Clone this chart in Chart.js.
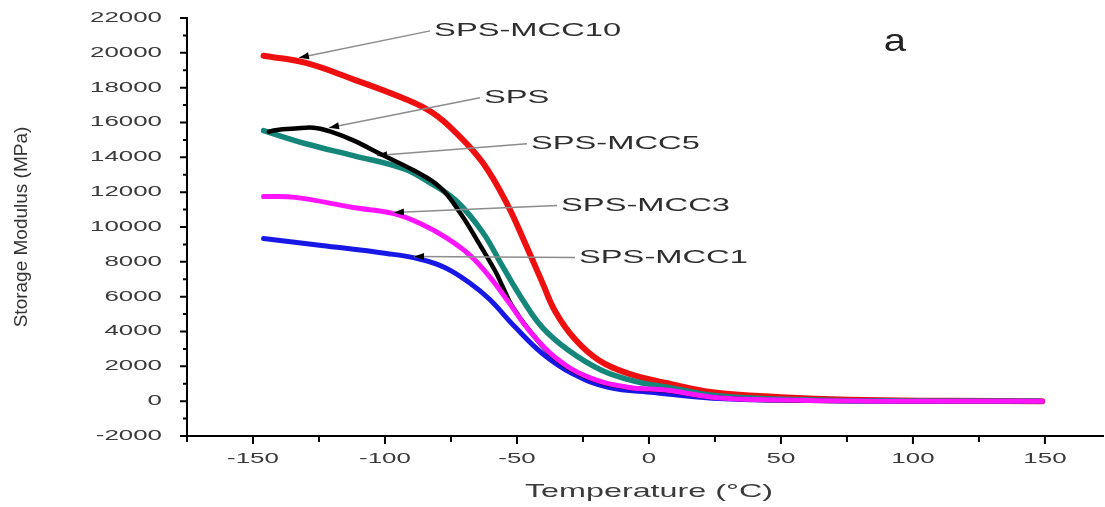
<!DOCTYPE html>
<html>
<head>
<meta charset="utf-8">
<script src="https://cdn.jsdelivr.net/npm/chart.js@4.4.0/dist/chart.umd.min.js"></script>
<style>
html, body { margin: 0; padding: 0; background: #fff; }
</style>
</head>
<body>
<canvas id="dmaChart" width="1105" height="507"></canvas>
<script>
// storage modulus (MPa) vs temperature (C)
const tempMCC10 = [-146, -130, -112, -93, -82, -73, -63, -54, -47, -40.5, -35.5, -28, -19, -8, 7, 24, 50, 76, 113, 149];
const modMCC10 = [19830, 19420, 18480, 17390, 16560, 15400, 13700, 11400, 9100, 6850, 5150, 3550, 2350, 1600, 1030, 515, 230, 80, 20, 0];

const tempSPS = [-144, -141.5, -134, -127, -120, -111.8, -100.5, -89, -79, -71.5, -64, -58, -55.5, -52, -45, -35.5, -23, -8, 7, 24, 50, 95, 148];
const modSPS = [15470, 15560, 15650, 15700, 15450, 14960, 14100, 13240, 12260, 10800, 8960, 7400, 6600, 5500, 4000, 2450, 1330, 780, 600, 220, 50, 0, 0];

const tempMCC5 = [-146, -130, -112, -93, -83, -73, -63, -55.5, -48, -40.5, -30.5, -18, -4, 7, 24, 50, 95, 148];
const modMCC5 = [15530, 14780, 14100, 13350, 12550, 11500, 9700, 7750, 5850, 4250, 2920, 1780, 1090, 800, 340, 115, 10, 0];

const tempMCC3 = [-146, -134, -112, -96.7, -86.6, -77, -68, -60.4, -53, -45.4, -35.6, -23, -8, 7, 24, 50, 87, 149];
const modMCC3 = [11750, 11700, 11120, 10770, 10200, 9400, 8400, 7150, 5650, 4070, 2520, 1380, 800, 630, 230, 60, 0, 0];

const tempMCC1 = [-146, -124, -99.4, -86.6, -77, -68, -60.4, -50.6, -40.5, -29.2, -15.4, 2, 24, 50, 95, 148];
const modMCC1 = [9340, 8940, 8480, 8150, 7650, 6800, 5850, 4240, 2750, 1600, 800, 500, 170, 60, 0, 0];

const xTicks = [-150, -100, -50, 0, 50, 100, 150];
const xMinorTicks = [-175, -125, -75, -25, 25, 75, 125];
const yTicks = [-2000, 0, 2000, 4000, 6000, 8000, 10000, 12000, 14000, 16000, 18000, 20000, 22000];
const yMinorTicks = [-1000, 1000, 3000, 5000, 7000, 9000, 11000, 13000, 15000, 17000, 19000, 21000];

const seriesNames = ['SPS-MCC10', 'SPS', 'SPS-MCC5', 'SPS-MCC3', 'SPS-MCC1'];

function pairUp(xs, ys) {
  return xs.map((t, i) => ({x: t, y: ys[i]}));
}

// callout labels: text anchor and arrow tip, in data units
const callouts = [
  {text: 'SPS-MCC10', at: [-81.4, 21260], tip: [-132.6, 19715]},
  {text: 'SPS', at: [-62.5, 17420], tip: [-121.2, 15700]},
  {text: 'SPS-MCC5', at: [-44.7, 14785], tip: [-103, 14100]},
  {text: 'SPS-MCC3', at: [-33.3, 11230], tip: [-96.6, 10830]},
  {text: 'SPS-MCC1', at: [-26.5, 8250], tip: [-89, 8310]}
];

// the source figure is stretched sideways, so text is too
function wideText(ctx, txt, x, y, font, align, sx) {
  ctx.save();
  ctx.translate(x, y);
  ctx.scale(sx, 1);
  ctx.font = font;
  ctx.textAlign = align;
  ctx.textBaseline = 'middle';
  ctx.fillText(txt, 0, 0);
  ctx.restore();
}

const axisDecor = {
  id: 'axisDecor',
  afterDraw(chart) {
    const {ctx, scales: {x, y}, chartArea: area} = chart;
    ctx.save();
    ctx.strokeStyle = '#000';
    ctx.lineWidth = 2;
    ctx.beginPath();
    yTicks.forEach(v => { const p = y.getPixelForValue(v); ctx.moveTo(area.left - 7, p); ctx.lineTo(area.left, p); });
    yMinorTicks.forEach(v => { const p = y.getPixelForValue(v); ctx.moveTo(area.left - 4, p); ctx.lineTo(area.left, p); });
    xTicks.forEach(v => { const p = x.getPixelForValue(v); ctx.moveTo(p, area.bottom); ctx.lineTo(p, area.bottom + 8); });
    xMinorTicks.forEach(v => { const p = x.getPixelForValue(v); ctx.moveTo(p, area.bottom); ctx.lineTo(p, area.bottom + 6); });
    ctx.stroke();

    ctx.fillStyle = '#3a3a3a';
    yTicks.forEach(v => wideText(ctx, String(v), area.left - 25, y.getPixelForValue(v), '14px "Liberation Sans"', 'right', 1.85));
    xTicks.forEach(v => wideText(ctx, String(v), x.getPixelForValue(v), area.bottom + 23, '14px "Liberation Sans"', 'center', 1.85));
    wideText(ctx, 'Temperature (\u00b0C)', x.getPixelForValue(0), area.bottom + 56, '19px "Liberation Sans"', 'center', 1.7);

    // callouts
    callouts.forEach(c => {
      const tx = x.getPixelForValue(c.at[0]), ty = y.getPixelForValue(c.at[1]);
      const px = x.getPixelForValue(c.tip[0]), py = y.getPixelForValue(c.tip[1]);
      ctx.strokeStyle = '#8c8c8c';
      ctx.lineWidth = 1.5;
      ctx.beginPath();
      ctx.moveTo(tx - 4, ty);
      ctx.lineTo(px, py);
      ctx.stroke();
      const ang = Math.atan2(py - ty, px - (tx - 4));
      ctx.fillStyle = '#000';
      ctx.beginPath();
      ctx.moveTo(px, py);
      ctx.lineTo(px - 10 * Math.cos(ang) - 3.5 * Math.sin(ang), py - 10 * Math.sin(ang) + 3.5 * Math.cos(ang));
      ctx.lineTo(px - 10 * Math.cos(ang) + 3.5 * Math.sin(ang), py - 10 * Math.sin(ang) - 3.5 * Math.cos(ang));
      ctx.closePath();
      ctx.fill();
      ctx.fillStyle = '#2e2e2e';
      wideText(ctx, c.text, tx, ty, '19px "Liberation Sans"', 'left', 1.72);
    });
    ctx.fillStyle = '#222';
    wideText(ctx, 'a', x.getPixelForValue(93.2), y.getPixelForValue(20600), '32px "Liberation Sans"', 'center', 1.25);
    ctx.restore();
  }
};

new Chart(document.getElementById('dmaChart'), {
  type: 'line',
  data: {
    datasets: [
      {label: seriesNames[0], data: pairUp(tempMCC10, modMCC10), borderColor: '#ee1010', borderWidth: 6, order: 4},
      {label: seriesNames[1], data: pairUp(tempSPS, modSPS), borderColor: '#000000', borderWidth: 4.5, order: 1},
      {label: seriesNames[2], data: pairUp(tempMCC5, modMCC5), borderColor: '#14877a', borderWidth: 5.5, order: 2},
      {label: seriesNames[3], data: pairUp(tempMCC3, modMCC3), borderColor: '#ff14ff', borderWidth: 5, order: 0},
      {label: seriesNames[4], data: pairUp(tempMCC1, modMCC1), borderColor: '#1818e6', borderWidth: 5, order: 3}
    ]
  },
  options: {
    responsive: false,
    animation: false,
    devicePixelRatio: 1,
    layout: {padding: {top: 18, right: 2, left: 0, bottom: 0}},
    elements: {
      point: {radius: 0},
      line: {tension: 0.4, borderCapStyle: 'round', borderJoinStyle: 'round', fill: false}
    },
    plugins: {legend: {display: false}, tooltip: {enabled: false}},
    scales: {
      x: {
        type: 'linear', min: -175, max: 172,
        grid: {display: false},
        border: {display: true, color: '#000', width: 2},
        ticks: {display: false},
        afterFit(s) { s.height = 71; }
      },
      y: {
        type: 'linear', min: -2000, max: 22000,
        grid: {display: false},
        border: {display: true, color: '#000', width: 2},
        ticks: {display: false},
        title: {display: true, text: 'Storage Modulus (MPa)', color: '#333', font: {family: 'Liberation Sans', size: 19}, padding: {top: 10, bottom: 0}},
        afterFit(s) { s.width = 187; }
      }
    }
  },
  plugins: [axisDecor]
});
</script>
</body>
</html>
